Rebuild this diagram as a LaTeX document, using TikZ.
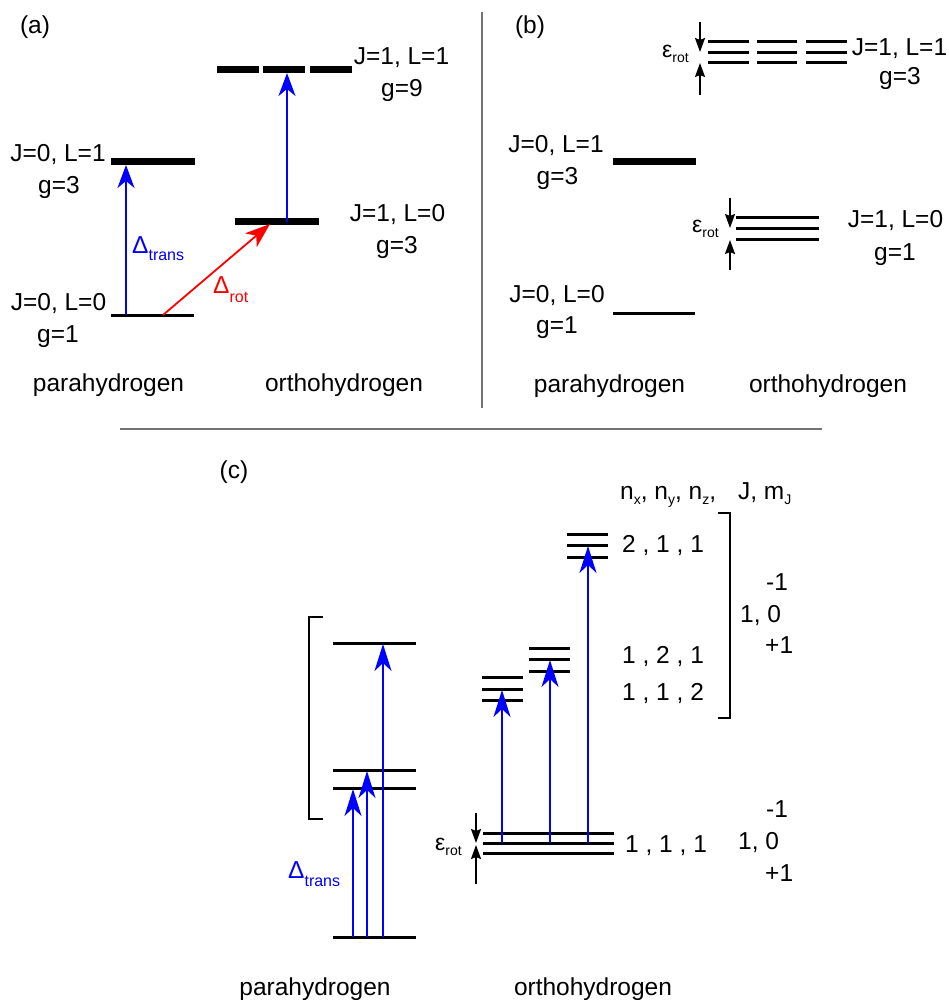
\documentclass[tikz,border=0pt]{standalone}
\usepackage{fontspec}
\setmainfont{Liberation Sans}
\usetikzlibrary{arrows.meta}
\newcommand\lowsub[2]{\raisebox{-#1}{\fontsize{16}{16}\selectfont #2}}
\newcommand\epsrot{{\fontsize{23}{23}\selectfont ε}\raisebox{-5pt}{\fontsize{14}{14}\selectfont rot}}
\newcommand\hsub[1]{\raisebox{-5pt}{\fontsize{14}{14}\selectfont #1}}
\begin{document}
\begin{tikzpicture}[x=1pt,y=-1pt,
  bar/.style={line width=7pt},
  lev/.style={line width=3pt},
  sep/.style={line width=2pt, black!55},
  brk/.style={line width=1.6pt},
  bluearrow/.style={blue, line width=1.8pt, -{Stealth[length=23pt,width=17pt,inset=7pt]}},
  bluearrowc/.style={blue, line width=1.8pt, -{Stealth[length=27pt,width=17pt,inset=8pt]}},
  redarrow/.style={red, line width=1.8pt, -{Stealth[length=25pt,width=18pt,inset=7pt]}},
  epsarrow/.style={black, line width=2pt, -{Stealth[length=14pt,width=10pt,inset=2pt]}},
  txt/.style={inner sep=0pt, anchor=base, font=\fontsize{24.5}{29}\selectfont},
  txtw/.style={txt, anchor=base west},
]
\useasboundingbox (0,0) rectangle (948,1000);

% separators
\coordinate (v1) at (482,12); \coordinate (v2) at (482,408);
\coordinate (h1) at (120,429); \coordinate (h2) at (822,429);
\draw[sep] (v1) -- (v2);
\draw[sep] (h1) -- (h2);

% ================= (a) =================
\node[txt] (la) at (35,34) {(a)};
% para levels
\coordinate (aP1L) at (111,162); \coordinate (aP1R) at (195,162);
\coordinate (aP0L) at (111,315); \coordinate (aP0R) at (194,315);
\draw[bar] (aP1L) -- (aP1R);
\draw[lev] (aP0L) -- (aP0R);
% ortho levels
\coordinate (aO0L) at (235,222); \coordinate (aO0R) at (319,222);
\draw[bar] (aO0L) -- (aO0R);
\coordinate (aO1aL) at (217,70); \coordinate (aO1aR) at (259,70);
\coordinate (aO1bL) at (263,70); \coordinate (aO1bR) at (305,70);
\coordinate (aO1cL) at (310,70); \coordinate (aO1cR) at (352,70);
\draw[bar] (aO1aL) -- (aO1aR);
\draw[bar] (aO1bL) -- (aO1bR);
\draw[bar] (aO1cL) -- (aO1cR);
% arrows
\coordinate (aA1s) at (126,315); \coordinate (aA1e) at (126,165);
\draw[bluearrow] (aA1s) -- (aA1e);
\coordinate (aA2s) at (287,222); \coordinate (aA2e) at (287,73);
\draw[bluearrow] (aA2s) -- (aA2e);
\coordinate (aR1s) at (163,315); \coordinate (aR1e) at (270,224);
\draw[redarrow] (aR1s) -- (aR1e);
% labels
\node[txt] (aT1) at (401.5,65) {J=1, L=1};
\node[txt] (aT2) at (402,97) {g=9};
\node[txt] (aT3) at (58,162) {J=0, L=1};
\node[txt] (aT4) at (59,194) {g=3};
\node[txt] (aT5) at (397.5,222) {J=1, L=0};
\node[txt] (aT6) at (397,253) {g=3};
\node[txt] (aT7) at (58.5,310) {J=0, L=0};
\node[txt] (aT8) at (58,342) {g=1};
\node[txt] (aT9) at (108.5,391) {parahydrogen};
\node[txt] (aT10) at (344,391) {orthohydrogen};
\node[txtw, text=blue] (aDt) at (132,253) {Δ\lowsub{7pt}{trans}};
\node[txtw, text=red] (aDr) at (213,293) {Δ\lowsub{9pt}{rot}};

% ================= (b) =================
\node[txt] (lb) at (530,34) {(b)};
\foreach \y [count=\i] in {42,53,63} {
  \coordinate (bTa\i L) at (708,\y); \coordinate (bTa\i R) at (749,\y);
  \coordinate (bTb\i L) at (757,\y); \coordinate (bTb\i R) at (797,\y);
  \coordinate (bTc\i L) at (806,\y); \coordinate (bTc\i R) at (847,\y);
  \draw[lev] (bTa\i L) -- (bTa\i R);
  \draw[lev] (bTb\i L) -- (bTb\i R);
  \draw[lev] (bTc\i L) -- (bTc\i R);
}
\coordinate (bE1s) at (700,22); \coordinate (bE1e) at (700,52);
\coordinate (bE2s) at (700,95); \coordinate (bE2e) at (700,63);
\draw[epsarrow] (bE1s) -- (bE1e);
\draw[epsarrow] (bE2s) -- (bE2e);
\node[txtw] (bEps1) at (662,58) {\epsrot};

\coordinate (bP1L) at (613,162); \coordinate (bP1R) at (696,162);
\draw[bar] (bP1L) -- (bP1R);
\coordinate (bP0L) at (613,313); \coordinate (bP0R) at (695,313);
\draw[lev] (bP0L) -- (bP0R);

\foreach \y [count=\i] in {218,229,239} {
  \coordinate (bM\i L) at (736,\y); \coordinate (bM\i R) at (819,\y);
  \draw[lev] (bM\i L) -- (bM\i R);
}
\coordinate (bE3s) at (730,198); \coordinate (bE3e) at (730,228);
\coordinate (bE4s) at (730,270); \coordinate (bE4e) at (730,240);
\draw[epsarrow] (bE3s) -- (bE3e);
\draw[epsarrow] (bE4s) -- (bE4e);
\node[txtw] (bEps2) at (692,233) {\epsrot};

\node[txt] (bT1) at (899.5,56) {J=1, L=1};
\node[txt] (bT2) at (900,85) {g=3};
\node[txt] (bT3) at (556,153) {J=0, L=1};
\node[txt] (bT4) at (557.5,185) {g=3};
\node[txt] (bT5) at (895.5,228) {J=1, L=0};
\node[txt] (bT6) at (895,260) {g=1};
\node[txt] (bT7) at (557,302) {J=0, L=0};
\node[txt] (bT8) at (557,333) {g=1};
\node[txt] (bT9) at (609.5,392) {parahydrogen};
\node[txt] (bT10) at (828,392) {orthohydrogen};

% ================= (c) =================
\node[txt] (lc) at (234,478) {(c)};
\node[txtw] (cHead) at (620,499) {n\hsub{x}, n\hsub{y}, n\hsub{z},\hspace{22pt}J, m\hsub{J}};

% para levels
\coordinate (cP3L) at (333,643); \coordinate (cP3R) at (416,643);
\coordinate (cP2L) at (333,770); \coordinate (cP2R) at (416,770);
\coordinate (cP1L) at (333,788); \coordinate (cP1R) at (416,788);
\coordinate (cP0L) at (333,937); \coordinate (cP0R) at (416,937);
\draw[lev] (cP3L) -- (cP3R);
\draw[lev] (cP2L) -- (cP2R);
\draw[lev] (cP1L) -- (cP1R);
\draw[lev] (cP0L) -- (cP0R);
% left bracket
\coordinate (cB1a) at (323,617); \coordinate (cB1b) at (309,617);
\coordinate (cB1c) at (309,819); \coordinate (cB1d) at (323,819);
\draw[brk] (cB1a) -- (cB1b) -- (cB1c) -- (cB1d);
% para arrows
\coordinate (cPa1s) at (353,937); \coordinate (cPa1e) at (353,789);
\coordinate (cPa2s) at (367,937); \coordinate (cPa2e) at (367,771);
\coordinate (cPa3s) at (383,937); \coordinate (cPa3e) at (383,644);
\draw[bluearrowc] (cPa1s) -- (cPa1e);
\draw[bluearrowc] (cPa2s) -- (cPa2e);
\draw[bluearrowc] (cPa3s) -- (cPa3e);
\node[txtw, text=blue] (cDt) at (288,878) {Δ\lowsub{8pt}{trans}};

% ortho levels
\foreach \y [count=\i] in {534,545,557} {
  \coordinate (cO3\i L) at (567,\y); \coordinate (cO3\i R) at (608,\y);
  \draw[lev] (cO3\i L) -- (cO3\i R);
}
\foreach \y [count=\i] in {648,659,671} {
  \coordinate (cO2\i L) at (529,\y); \coordinate (cO2\i R) at (570,\y);
  \draw[lev] (cO2\i L) -- (cO2\i R);
}
\foreach \y [count=\i] in {677,689,700} {
  \coordinate (cO1\i L) at (482,\y); \coordinate (cO1\i R) at (523,\y);
  \draw[lev] (cO1\i L) -- (cO1\i R);
}
\foreach \y [count=\i] in {833,843,853} {
  \coordinate (cO0\i L) at (483,\y); \coordinate (cO0\i R) at (614,\y);
  \draw[lev] (cO0\i L) -- (cO0\i R);
}
% ortho arrows
\coordinate (cOa1s) at (502,843); \coordinate (cOa1e) at (502,690);
\coordinate (cOa2s) at (550,843); \coordinate (cOa2e) at (550,660);
\coordinate (cOa3s) at (588,843); \coordinate (cOa3e) at (588,546);
\draw[bluearrowc] (cOa1s) -- (cOa1e);
\draw[bluearrowc] (cOa2s) -- (cOa2e);
\draw[bluearrowc] (cOa3s) -- (cOa3e);
% eps arrows
\coordinate (cE1s) at (476,813); \coordinate (cE1e) at (476,843);
\coordinate (cE2s) at (476,884); \coordinate (cE2e) at (476,845);
\draw[epsarrow] (cE1s) -- (cE1e);
\draw[epsarrow] (cE2s) -- (cE2e);
\node[txtw] (cEps) at (435,850) {\epsrot};
% right bracket
\coordinate (cB2a) at (718,513); \coordinate (cB2b) at (730,513);
\coordinate (cB2c) at (730,718); \coordinate (cB2d) at (718,718);
\draw[brk] (cB2a) -- (cB2b) -- (cB2c) -- (cB2d);

% labels
\node[txtw] (cL1) at (622,552) {2 , 1 , 1};
\node[txtw] (cL2) at (622,663) {1 , 2 , 1};
\node[txtw] (cL3) at (622,700) {1 , 1 , 2};
\node[txtw] (cL4) at (625,852) {1 , 1 , 1};
\node[txtw] (cM1) at (766,590) {-1};
\node[txtw] (cM2) at (740,622) {1, 0};
\node[txtw] (cM3) at (765,653) {+1};
\node[txtw] (cM4) at (766,817) {-1};
\node[txtw] (cM5) at (738,849) {1, 0};
\node[txtw] (cM6) at (765,881) {+1};
\node[txt] (cT1) at (315,995) {parahydrogen};
\node[txt] (cT2) at (593,995) {orthohydrogen};
\end{tikzpicture}
\end{document}
